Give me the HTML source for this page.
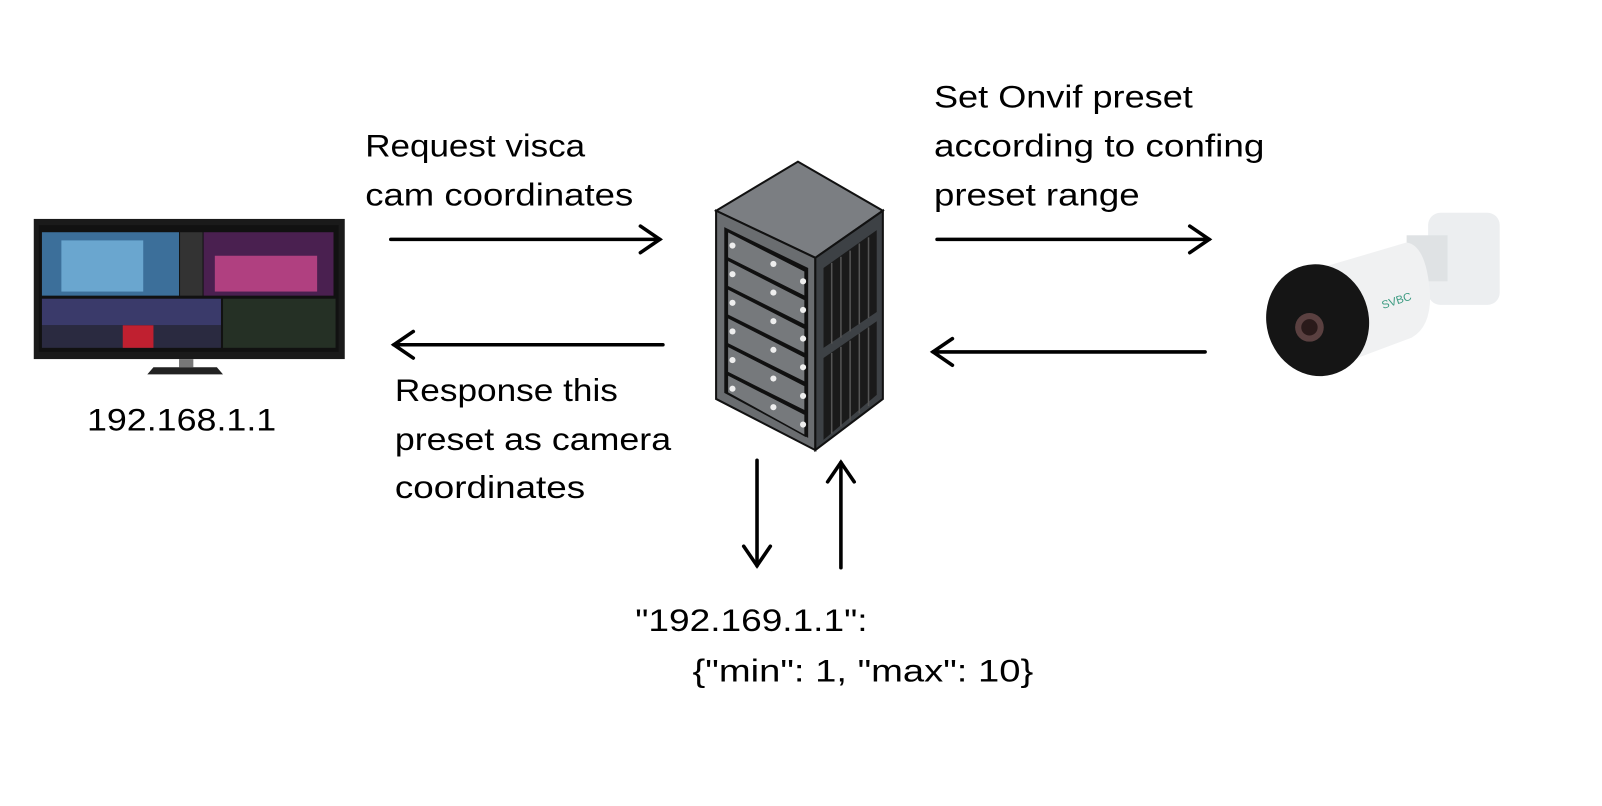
<!DOCTYPE html>
<html><head><meta charset="utf-8"><style>
html,body{margin:0;padding:0;background:#fff;}
svg{display:block}
text{font-family:"Liberation Sans",sans-serif;font-size:31px;fill:#000;}
</style></head><body>
<svg width="1602" height="806" viewBox="0 0 1602 806" xmlns="http://www.w3.org/2000/svg">
<g transform="scale(1.023)">
<!-- Monitor -->
<rect x="33" y="214" width="304" height="137" fill="#1a1a1a"/>
<rect x="38" y="220" width="293" height="124" fill="#111"/>
<rect x="41" y="227" width="134" height="62" fill="#3c6f9a"/>
<rect x="60" y="235" width="80" height="50" fill="#6aa6cf"/>
<rect x="176" y="227" width="22" height="62" fill="#333"/>
<rect x="199" y="227" width="127" height="62" fill="#4a2050"/>
<rect x="210" y="250" width="100" height="35" fill="#b04080"/>
<rect x="41" y="292" width="175" height="26" fill="#3a3a6a"/>
<rect x="41" y="318" width="175" height="22" fill="#2a2a40"/>
<rect x="120" y="318" width="30" height="22" fill="#c02030"/>
<rect x="218" y="292" width="110" height="48" fill="#253025"/>
<rect x="175" y="351" width="14" height="8" fill="#777"/>
<polygon points="150,359 212,359 218,366 144,366" fill="#222"/>
<!-- Server -->
<polygon points="700,206 780,158 863,206 797,252" fill="#7b7e82" stroke="#111" stroke-width="2"/>
<polygon points="700,206 797,252 797,440 700,390" fill="#6a6d70" stroke="#111" stroke-width="2"/>
<polygon points="797,252 863,206 863,390 797,440" fill="#3d4145" stroke="#111" stroke-width="2"/>
<polygon points="708,222 790,262 790,428 708,384" fill="#111"/>
<g fill="#76797c" stroke="#111" stroke-width="1.5">
<polygon points="711,226 787,265 787,290 711,252"/>
<polygon points="711,254 787,293 787,318 711,280"/>
<polygon points="711,282 787,321 787,346 711,308"/>
<polygon points="711,310 787,349 787,374 711,336"/>
<polygon points="711,338 787,377 787,402 711,364"/>
<polygon points="711,366 787,405 787,426 711,384"/>
</g>
<g fill="#eee">
<circle cx="716" cy="240" r="3"/><circle cx="756" cy="258" r="3"/><circle cx="785" cy="275" r="3"/>
<circle cx="716" cy="268" r="3"/><circle cx="756" cy="286" r="3"/><circle cx="785" cy="303" r="3"/>
<circle cx="716" cy="296" r="3"/><circle cx="756" cy="314" r="3"/><circle cx="785" cy="331" r="3"/>
<circle cx="716" cy="324" r="3"/><circle cx="756" cy="342" r="3"/><circle cx="785" cy="359" r="3"/>
<circle cx="716" cy="352" r="3"/><circle cx="756" cy="370" r="3"/><circle cx="785" cy="387" r="3"/>
<circle cx="716" cy="380" r="3"/><circle cx="756" cy="398" r="3"/><circle cx="785" cy="415" r="3"/>
</g>
<polygon points="805,262 857,225 857,305 805,340" fill="#1a1a1a"/>
<polygon points="805,350 857,314 857,386 805,430" fill="#1a1a1a"/>
<g stroke="#555" stroke-width="1.5">
<line x1="813" y1="257" x2="813" y2="336"/><line x1="822" y1="251" x2="822" y2="330"/><line x1="831" y1="245" x2="831" y2="324"/><line x1="840" y1="238" x2="840" y2="317"/><line x1="849" y1="232" x2="849" y2="311"/>
<line x1="813" y1="345" x2="813" y2="424"/><line x1="822" y1="339" x2="822" y2="417"/><line x1="831" y1="333" x2="831" y2="411"/><line x1="840" y1="326" x2="840" y2="404"/><line x1="849" y1="320" x2="849" y2="397"/>
</g>
<!-- Camera -->
<rect x="1396" y="208" width="70" height="90" rx="12" fill="#eceef0"/>
<rect x="1375" y="230" width="40" height="45" fill="#dfe2e4"/>
<path d="M1270 268 L1375 237 Q1395 240 1398 290 Q1398 320 1380 330 L1300 360 Z" fill="#f0f1f2"/>
<ellipse cx="1288" cy="313" rx="50" ry="55" transform="rotate(-15 1288 313)" fill="#151515"/>
<circle cx="1280" cy="320" r="14" fill="#5a4040"/>
<circle cx="1280" cy="320" r="8" fill="#2a1a1a"/>
<text x="1352" y="302" style="font-size:11px;fill:#3a9a80" transform="rotate(-18 1352 302)">SVBC</text>
<!-- Arrows -->
<g stroke="#000" stroke-width="3.5" fill="none" stroke-linecap="round">
<line x1="382" y1="234" x2="645" y2="234"/><polyline points="626,221 645,234 626,247"/>
<line x1="385" y1="337" x2="648" y2="337"/><polyline points="404,324 385,337 404,350"/>
<line x1="916" y1="234" x2="1182" y2="234"/><polyline points="1163,221 1182,234 1163,247"/>
<line x1="912" y1="344" x2="1178" y2="344"/><polyline points="931,331 912,344 931,357"/>
<line x1="740" y1="450" x2="740" y2="553"/><polyline points="727,534 740,553 753,534"/>
<line x1="822" y1="555" x2="822" y2="452"/><polyline points="809,471 822,452 835,471"/>
</g>
<!-- Text -->
<text x="357" y="153" textLength="215" lengthAdjust="spacingAndGlyphs">Request visca</text>
<text x="357" y="201" textLength="262" lengthAdjust="spacingAndGlyphs">cam coordinates</text>
<text x="913" y="105" textLength="253" lengthAdjust="spacingAndGlyphs">Set Onvif preset</text>
<text x="913" y="153" textLength="323" lengthAdjust="spacingAndGlyphs">according to confing</text>
<text x="913" y="201" textLength="201" lengthAdjust="spacingAndGlyphs">preset range</text>
<text x="386" y="392" textLength="218" lengthAdjust="spacingAndGlyphs">Response this</text>
<text x="386" y="440" textLength="270" lengthAdjust="spacingAndGlyphs">preset as camera</text>
<text x="386" y="487" textLength="186" lengthAdjust="spacingAndGlyphs">coordinates</text>
<text x="85" y="421" textLength="185" lengthAdjust="spacingAndGlyphs">192.168.1.1</text>
<text x="621" y="617" textLength="227" lengthAdjust="spacingAndGlyphs">"192.169.1.1":</text>
<text x="677" y="666" textLength="333" lengthAdjust="spacingAndGlyphs">{"min": 1, "max": 10}</text>
</g>
</svg>
</body></html>
